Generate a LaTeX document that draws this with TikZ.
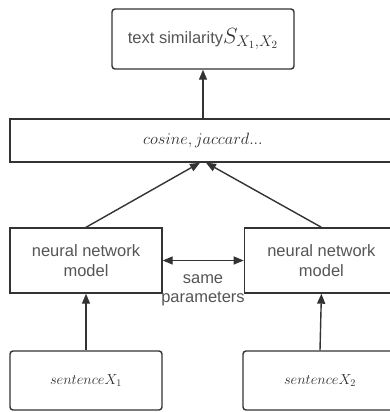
\RequirePackage{fix-cm}
\documentclass[tikz,border=0pt]{standalone}
\usepackage{fontspec}
\setsansfont{Liberation Sans}
\usetikzlibrary{positioning}
\usetikzlibrary{arrows.meta}
\definecolor{linegray}{HTML}{333333}
\definecolor{textgray}{HTML}{555555}
\definecolor{mathgray}{HTML}{2E2E2E}
\begin{document}
\begin{tikzpicture}[x=1pt, y=1pt,
    roundbox/.style={rectangle, rounded corners=3pt, draw=linegray,
      line width=1.4pt, text=mathgray, inner sep=0pt},
    squarebox/.style={rectangle, draw=linegray, line width=1.4pt,
      text=textgray, inner sep=0pt, align=center,
      font=\sffamily\fontsize{16.5}{20}\selectfont},
    link/.style={-{Triangle[length=10pt, width=8pt]}, draw=linegray,
      line width=1.4pt}, ]
    \useasboundingbox (0,0) rectangle (390,-412);
    % Nodes
    \node[roundbox, minimum width=182pt, minimum height=60pt] (sim) at
    (203,-39) {\color{textgray}\sffamily\fontsize{16.5}{19}\selectfont
      text similarity\color{mathgray}\fontsize{22}{24}\selectfont$S_{X_1,X_2}$};
    \node[squarebox, minimum width=386pt, minimum height=43pt] (measure)
    at (203,-140.5) {\color{mathgray}\fontsize{16.4}{19}\selectfont$cosine, jaccard...$};
    \node[squarebox, minimum width=152pt, minimum height=65pt] (nnleft)
    at (86,-260.5) {neural network\\model}; \node[squarebox, minimum
    width=154pt, minimum height=65pt] (nnright) [right=81pt of nnleft]
    {neural network\\model};
    \node[roundbox, minimum width=152pt, minimum height=59pt] (senleft)
    at (86,-380.5) {\fontsize{14.5}{17}\selectfont$sentence X_1$};
    \node[roundbox, minimum width=154pt, minimum height=59pt] (senright)
    at (320,-380.5) {\fontsize{14.5}{17}\selectfont$sentence X_2$};
    \node[text=textgray, align=center, font=\sffamily\fontsize{16.5}{19}\selectfont]
    (shared) at (203,-290) {same\\parameters};
    % Lines
    \draw[link] (measure.north) -- (sim.south); \draw[link]
    (nnleft.north) -- ([xshift=-3pt]measure.south); \draw[link]
    (nnright.north) -- ([xshift=3pt]measure.south); \draw[link]
    (senleft.north) -- (nnleft.south); \draw[link] (senright.north) --
    (nnright.south); \draw[link, {Triangle[length=10pt,
      width=8pt]}-{Triangle[length=10pt, width=8pt]}] (nnleft.east) --
    (nnright.west);
  \end{tikzpicture}
\end{document}
